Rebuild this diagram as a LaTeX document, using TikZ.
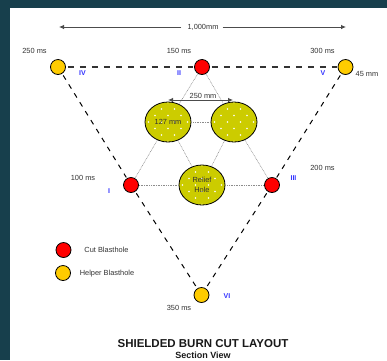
\documentclass[tikz,border=0pt]{standalone}
\usepackage{fontspec}
\setmainfont{Liberation Sans}
\usetikzlibrary{arrows.meta,shapes.geometric}
\definecolor{bgteal}{HTML}{173F4C}
\definecolor{olivey}{HTML}{CCCC00}
\definecolor{helper}{HTML}{FFCC00}
\definecolor{romanblue}{HTML}{3333FF}
\definecolor{txt}{HTML}{333333}
\tikzset{
  cut/.style={circle,draw=black,line width=0.8pt,fill=red,minimum size=15pt,inner sep=0pt},
  helperhole/.style={circle,draw=black,line width=0.8pt,fill=helper,minimum size=15pt,inner sep=0pt},
  bighole/.style={ellipse,draw=black,line width=0.8pt,minimum width=46pt,minimum height=40pt,inner sep=0pt},
  lbl/.style={font=\fontsize{7.4}{8.5}\selectfont,text=txt,inner sep=0pt,align=center},
  roman/.style={font=\fontsize{7}{8}\selectfont\bfseries,text=romanblue,inner sep=0pt},
  blast/.style={draw=black,line width=1pt,dash pattern=on 5pt off 5.5pt,shorten <=2pt,shorten >=1pt},
  topblast/.style={draw=black!80,line width=1.2pt,dash pattern=on 6pt off 6pt,shorten <=2pt,shorten >=1pt},
  web/.style={draw=black!50,line width=0.5pt,dash pattern=on 0.8pt off 0.8pt},
  webh/.style={draw=black!45,line width=0.9pt,dash pattern=on 1pt off 0.7pt},
  dim/.style={draw=black!70,line width=0.8pt,-{Latex[length=5pt,width=4.5pt]}}
}
\newcommand{\holedots}[2]{%
  \begin{scope}
    \clip (#1,#2) ellipse [x radius=22pt,y radius=19.3pt];
    \foreach \i in {-2,...,2}{\foreach \j in {-3,-1,1,3}{
      \fill[white] (#1+\i*13,#2+\j*6.5) circle [radius=0.9pt];}}
    \foreach \i in {-2,...,1}{\foreach \j in {-2,0,2}{
      \fill[white] (#1+\i*13+6.5,#2+\j*6.5) circle [radius=0.9pt];}}
  \end{scope}}
\begin{document}
\begin{tikzpicture}[x=1pt,y=-1pt]
\useasboundingbox (0,0) rectangle (387,360);
\fill[bgteal] (0,0) rectangle (387,360);
\fill[white] (10,8) rectangle (387,360);
% nodes
\node[helperhole] (iv) at (58,67) {};
\node[cut] (ii) at (202,67) {};
\node[helperhole] (v) at (345.5,67) {};
\node[cut] (i) at (131,185) {};
\node[cut] (iii) at (272,185) {};
\node[helperhole] (vi) at (201.5,295) {};
\node[bighole,fill=olivey] (a) at (168,122) {};
\node[bighole,fill=olivey] (b) at (234,122) {};
\node[bighole,fill=olivey] (c) at (202,185) {};
\holedots{168}{122}\holedots{234}{122}\holedots{202}{185}
% web
\draw[web] (ii) -- (a); \draw[web] (ii) -- (b);
\draw[webh] (a) -- (b); \draw[web] (a) -- (i); \draw[web] (a) -- (c);
\draw[web] (b) -- (c); \draw[web] (b) -- (iii);
\draw[webh] (i) -- (c); \draw[webh] (c) -- (iii);
% blast lines
\draw[topblast] (iv) -- (ii); \draw[topblast] (ii) -- (v);
\draw[blast] (iv) -- (i); \draw[blast] (i) -- (vi);
\draw[blast] (v) -- (iii); \draw[blast] (iii) -- (vi);
% texts in holes
\node[lbl] at (168,122) {127 mm};
\node[lbl,font=\fontsize{7.4}{10.5}\selectfont] at (202,185) {Relief\\Hole};
% dimensions
\node[lbl] (dimt) at (203,27) {1,000mm};
\coordinate (dl) at (59,27); \coordinate (dr) at (346,27);
\draw[dim] (dimt.west) ++(-6,0) -- (dl);
\draw[dim] (dimt.east) ++(4,0) -- (dr);
\coordinate (sl) at (168,100); \coordinate (sr) at (233,100);
\draw[dim] (202,100) -- (sl); \draw[dim] (202,100) -- (sr);
\node[lbl] at (203,96) {250 mm};
% timing
\node[lbl] at (34.5,50.5) {250 ms};
\node[lbl] at (179,50.5) {150 ms};
\node[lbl] at (322.5,50.5) {300 ms};
\node[lbl] at (367,73.5) {45 mm};
\node[lbl] at (83,178) {100 ms};
\node[lbl] at (322.5,167.5) {200 ms};
\node[lbl] at (179,308) {350 ms};
% roman
\node[roman] at (82.5,73) {IV};
\node[roman] at (179,73) {II};
\node[roman] at (323,73) {V};
\node[roman] at (109,191) {I};
\node[roman] at (293.5,178) {III};
\node[roman] at (227,296) {VI};
% legend
\node[cut] (lc) at (63.5,250) {};
\node[helperhole] (lh) at (63,273) {};
\node[lbl] at (106.5,250) {Cut Blasthole};
\node[lbl] at (107,273.5) {Helper Blasthole};
% title
\node[font=\fontsize{11.5}{13}\selectfont\bfseries,text=black!90,inner sep=0pt] at (203,344) {SHIELDED BURN CUT LAYOUT};
\node[font=\fontsize{9}{10}\selectfont\bfseries,text=black!90,inner sep=0pt] at (203,355.5) {Section View};
\end{tikzpicture}
\end{document}
